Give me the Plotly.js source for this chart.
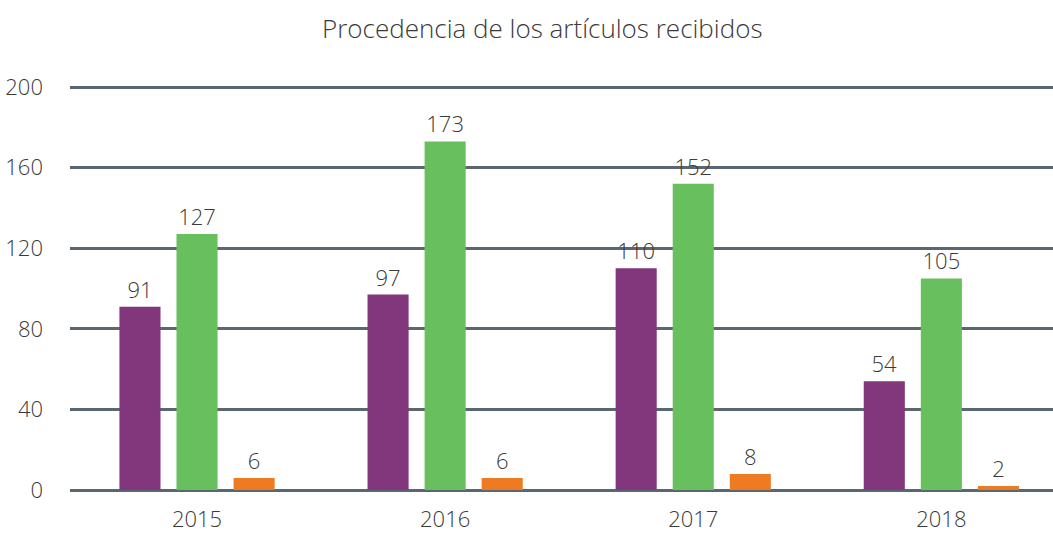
<!DOCTYPE html>
<html>
<head>
<meta charset="utf-8">
<script src="https://cdn.plot.ly/plotly-3.0.1.min.js"></script>
<style>html,body{margin:0;padding:0;background:#fff;}#chart{width:1053px;height:534px;}</style>
</head>
<body>
<div id="chart"></div>
<script>
const years = ['2015', '2016', '2017', '2018'];
const seriesA = [91, 97, 110, 54];
const seriesB = [127, 173, 152, 105];
const seriesC = [6, 6, 8, 2];
const yTicks = [0, 40, 80, 120, 160, 200];
const titleText = 'Procedencia de los artículos recibidos';

const labelFont = {family: '"Open Sans", sans-serif', size: 22, weight: 300, stretch: 'condensed', color: '#3a3a3a'};

function bar(vals, color) {
  return {
    type: 'bar', x: years, y: vals,
    marker: {color: color},
    text: vals.map(String), textposition: 'outside',
    textfont: labelFont, cliponaxis: false,
    hoverinfo: 'x+y'
  };
}

const data = [
  bar(seriesA, '#82367b'),
  bar(seriesB, '#68bf5e'),
  bar(seriesC, '#ee7b22')
];

const layout = {
  width: 1053, height: 534,
  margin: {l: 70, r: 0, t: 86, b: 44},
  paper_bgcolor: '#fff', plot_bgcolor: '#fff',
  showlegend: false,
  barmode: 'group', bargap: 0.31, bargroupgap: 0.28,
  title: {text: titleText, x: 0.515, xanchor: 'center', y: 0.945, yanchor: 'middle',
          font: {family: '"Open Sans", sans-serif', size: 26, weight: 300, color: '#3a3a3a'}},
  xaxis: {type: 'category', range: [-0.512, 3.45], showgrid: false, zeroline: false, showline: false,
          ticks: '', tickfont: labelFont, ticklabelstandoff: 14, fixedrange: true},
  yaxis: {range: [0, 200.5], tickvals: yTicks, ticktext: yTicks.map(String), showgrid: true,
          gridcolor: '#5b6770', gridwidth: 3, zeroline: true, zerolinecolor: '#5b6770', zerolinewidth: 3,
          showline: false, ticks: '', tickfont: labelFont, ticklabelstandoff: 26, fixedrange: true}
};

Plotly.newPlot('chart', data, layout, {displayModeBar: false, staticPlot: true});
</script>
</body>
</html>
